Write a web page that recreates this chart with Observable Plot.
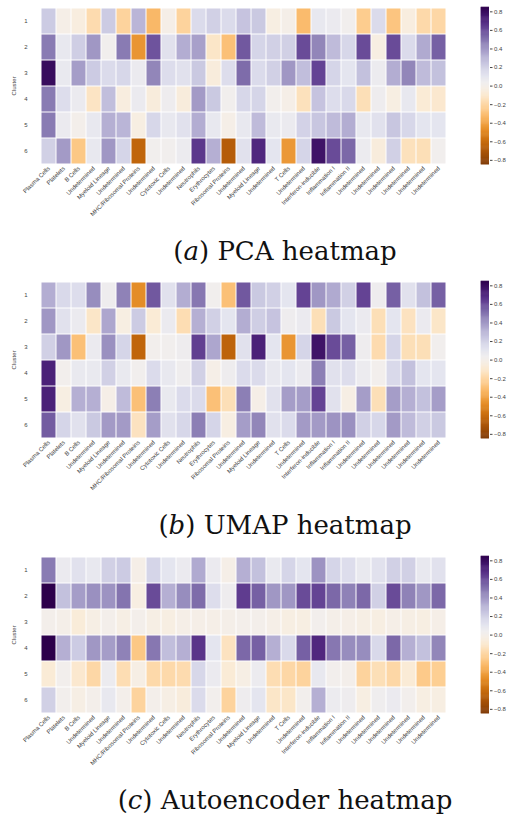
<!DOCTYPE html>
<html><head><meta charset="utf-8">
<script src="https://cdn.jsdelivr.net/npm/d3@7"></script>
<script src="https://cdn.jsdelivr.net/npm/@observablehq/plot@0.6"></script>
<style>
body{margin:0;background:#fff;}
#fig{position:relative;width:507px;height:817px;overflow:hidden;background:#fff;}
.panel{position:absolute;left:0;width:507px;height:275px;}
.panel svg{position:absolute;}
.cap{position:absolute;left:0;width:570px;text-align:center;font-family:"DejaVu Serif",serif;font-size:26px;line-height:26px;color:#111;white-space:nowrap;}
</style></head><body><div id="fig"></div>
<script>
const categories = ["Plasma Cells","Platelets","B Cells","Undetermined","Myeloid Lineage","Undetermined","MHC/Ribosomal Proteins","Undetermined","Cytotoxic Cells","Undetermined","Neutrophils","Erythrocytes","Ribosomal Proteins","Undetermined","Myeloid Lineage","Undetermined","T Cells","Undetermined","Interferon-inducible","Inflammation I","Inflammation II","Undetermined","Undetermined","Undetermined","Undetermined","Undetermined","Undetermined"];
const clusters = [1,2,3,4,5,6];

const pcaValues = [
  [0.22,-0.02,-0.05,-0.18,0.22,-0.22,0.3,-0.33,-0.02,-0.22,0.15,0.2,0.15,0.25,0.23,-0.04,-0.01,-0.32,0.08,0.06,0.02,-0.25,0.15,-0.28,-0.05,-0.19,-0.2],
  [0.48,0.08,0.21,0.4,0.02,0.48,-0.45,0.58,0.12,0.33,0.37,-0.12,-0.3,0.57,0.18,0.2,0.2,0.6,0.45,0.28,0.17,0.6,-0.04,0.6,0.15,0.34,0.55],
  [0.8,0.07,0.38,0.22,0.15,0.17,0.06,0.45,0.14,0.12,0.23,-0.06,0.14,0.52,0.15,0.2,0.4,0.27,0.62,0.18,0.1,0.26,0.05,0.33,0.45,0.28,0.26],
  [0.48,0.14,0.06,-0.13,0.27,-0.05,0.06,-0.06,0.04,-0.06,0.39,0.23,0.02,0.17,0.18,0.01,-0.02,-0.15,0.25,0.14,0.16,-0.16,0.04,-0.04,0.08,-0.08,-0.1],
  [0.48,0.06,0.0,0.08,0.32,0.3,-0.04,0.17,0.08,0.12,0.33,0.08,-0.02,0.08,0.28,0.07,0.06,0.19,0.24,0.28,0.33,0.08,0.12,0.24,0.17,0.1,0.1],
  [0.2,0.39,-0.27,0.08,0.4,0.18,-0.63,0.02,0.02,0.05,0.65,0.32,-0.67,0.12,0.7,0.1,-0.44,0.18,0.77,0.6,0.53,0.05,-0.06,0.2,-0.15,-0.16,0.02]
];
const umapValues = [
  [0.33,0.16,0.14,0.43,0.04,0.46,-0.48,0.57,0.12,0.33,0.49,0.02,-0.3,0.57,0.23,0.2,0.1,0.62,0.4,0.34,0.2,0.62,0.04,0.55,0.12,0.26,0.55],
  [0.4,0.12,0.06,-0.12,0.35,-0.04,0.22,-0.08,0.06,-0.17,0.32,0.2,0.1,0.33,0.21,0.25,0.04,0.06,-0.16,0.23,0.1,0.06,-0.16,0.1,-0.14,0.06,-0.12],
  [0.2,0.4,-0.3,0.06,0.42,0.18,-0.63,0.01,0.02,0.04,0.63,0.35,-0.64,0.12,0.72,0.1,-0.45,0.18,0.77,0.6,0.55,0.04,-0.18,0.18,-0.16,-0.16,0.02],
  [0.72,0.01,0.07,0.07,0.2,0.07,0.02,0.15,0.08,0.03,0.2,-0.02,0.04,0.15,0.15,0.08,0.1,0.06,0.47,0.12,0.14,0.05,0.01,0.16,0.26,0.1,0.1],
  [0.72,-0.04,0.32,0.32,-0.02,0.28,-0.3,0.47,0.07,0.15,0.15,-0.3,-0.16,0.47,-0.02,0.12,0.38,0.38,0.62,0.12,-0.03,0.38,-0.16,0.38,0.32,0.26,0.38],
  [0.56,0.18,0.12,0.23,0.39,0.39,-0.14,0.38,0.12,0.17,0.47,0.18,-0.04,0.38,0.45,0.12,0.15,0.39,0.39,0.41,0.42,0.2,0.17,0.39,0.28,0.2,0.23]
];
const aeValues = [
  [0.48,0.06,0.12,0.08,0.2,0.22,-0.02,0.18,0.1,0.06,0.34,0.06,-0.02,0.32,0.26,0.07,0.18,0.1,0.41,0.18,0.14,0.07,0.12,0.2,0.2,0.08,0.12],
  [0.85,0.26,0.38,0.42,0.41,0.5,-0.04,0.6,0.32,0.43,0.52,0.14,0.04,0.64,0.55,0.4,0.4,0.6,0.62,0.53,0.46,0.53,0.2,0.6,0.46,0.4,0.53],
  [0.0,-0.01,-0.07,-0.03,0.0,-0.03,0.0,-0.03,-0.04,-0.02,-0.02,-0.02,-0.01,0.0,0.0,-0.02,-0.04,-0.04,0.01,-0.01,-0.02,-0.03,-0.04,-0.02,-0.03,-0.04,-0.02],
  [0.85,0.32,0.22,0.4,0.38,0.46,-0.27,0.49,0.27,0.32,0.66,0.1,-0.14,0.53,0.55,0.32,0.16,0.55,0.7,0.49,0.43,0.43,0.16,0.53,0.32,0.26,0.45],
  [-0.08,0.01,-0.1,-0.2,0.05,-0.17,-0.03,-0.19,-0.19,-0.18,0.17,0.06,-0.08,-0.03,0.05,-0.17,-0.2,-0.22,0.08,0.01,0.0,-0.22,-0.16,-0.2,-0.08,-0.26,-0.24],
  [0.2,0.01,-0.03,0.0,0.08,0.0,-0.22,0.0,-0.03,-0.06,0.15,0.01,-0.22,0.04,0.1,-0.12,-0.12,0.01,0.32,0.05,0.04,-0.04,0.03,0.06,0.01,-0.04,-0.04]
];
const colorTicks = [-0.8,-0.6,-0.4,-0.2,0.0,0.2,0.4,0.6,0.8];
const colorDomain = [-0.85, 0.85];
const captionLetters = ["a","b","c"];
const captionTitles = ["PCA heatmap","UMAP heatmap","Autoencoder heatmap"];
const panelValues = [pcaValues, umapValues, aeValues];

const colorScale = {type:"linear", domain: colorDomain, interpolate: t => d3.interpolatePuOr(1 - t)};
const axisStyle = {fontFamily:"Liberation Sans, Arial, sans-serif", fontSize:"6px", color:"#444", background:"transparent", overflow:"visible"};

function heatmap(values){
  const data = [];
  values.forEach((row,i)=>row.forEach((v,j)=>data.push({col:j, cluster:clusters[i], v})));
  return Plot.plot({
    width: 460, height: 240,
    marginLeft: 32, marginRight: 5.4, marginTop: 7, marginBottom: 76,
    style: axisStyle,
    x: {type:"band", domain: d3.range(categories.length), padding:0},
    y: {type:"band", domain: clusters, padding:0},
    color: colorScale,
    marks: [
      Plot.cell(data, {x:"col", y:"cluster", fill:"v", inset:0.5}),
      Plot.axisX({tickFormat: i=>categories[i], tickRotate:-45, tickSize:0, tickPadding:3, label:null}),
      Plot.axisY({tickSize:0, tickPadding:5, label:"Cluster", labelAnchor:"center", labelOffset:21})
    ]
  });
}

function colorbar(){
  const step = 0.01;
  const stops = d3.range(colorDomain[0], colorDomain[1] - 1e-9, step);
  return Plot.plot({
    width: 40, height: 170,
    marginLeft: 10.7, marginRight: 21, marginTop: 6.7, marginBottom: 5.5,
    style: axisStyle,
    x: {domain:[0,1], axis:null},
    y: {domain: colorDomain},
    color: colorScale,
    marks: [
      Plot.rect(stops, {x1:0, x2:1, y1:d=>d, y2:d=>Math.min(d+step*1.6, colorDomain[1]), fill:d=>d+step/2}),
      Plot.axisY({anchor:"right", ticks: colorTicks, tickFormat: d3.format(".1f"), tickSize:2.5, tickPadding:2, label:null})
    ]
  });
}

const fig = document.getElementById("fig");
const pitch = 274.3;
panelValues.forEach((vals, k) => {
  const panel = document.createElement("div");
  panel.className = "panel";
  panel.style.top = (k*pitch) + "px";
  const hm = heatmap(vals);
  hm.style.left = "0px"; hm.style.top = "0px";
  panel.appendChild(hm);
  const cb = colorbar();
  cb.style.left = "470px"; cb.style.top = "0px";
  panel.appendChild(cb);
  const cap = document.createElement("div");
  cap.className = "cap";
  cap.style.top = "238px";
  cap.innerHTML = "(<i>" + captionLetters[k] + "</i>) " + captionTitles[k];
  panel.appendChild(cap);
  fig.appendChild(panel);
});
</script>
</body></html>
